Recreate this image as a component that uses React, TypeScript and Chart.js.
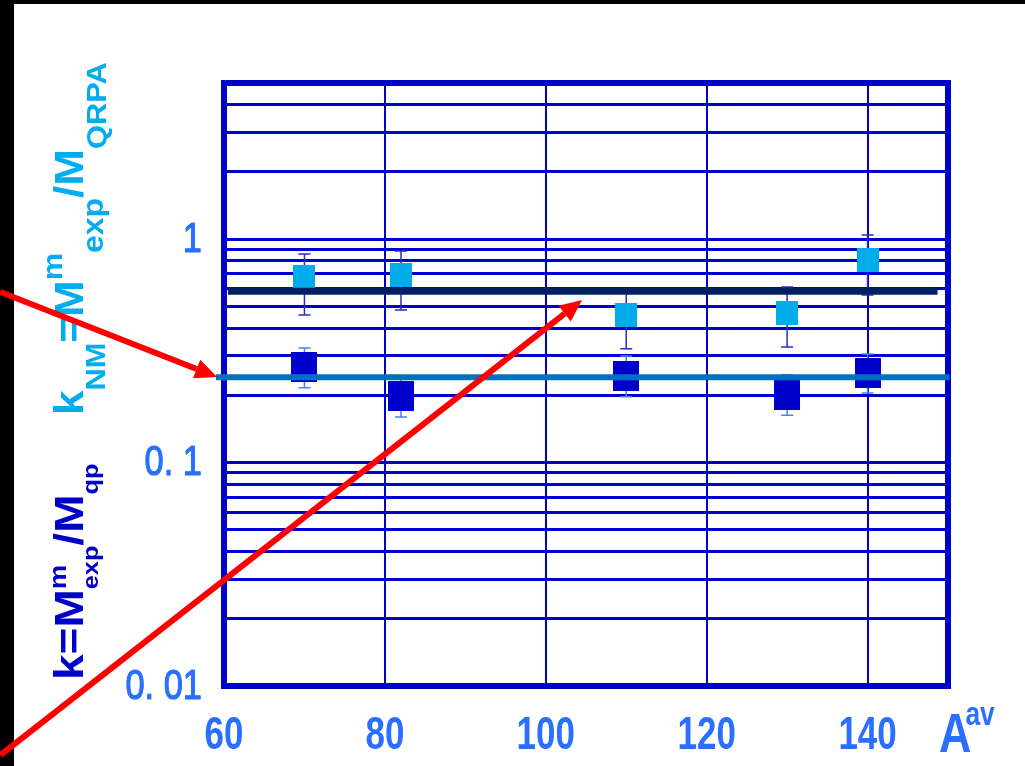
import React, { useEffect, useRef } from 'react';
import { Chart, registerables } from 'chart.js';

Chart.register(...registerables);

// Mass numbers of the decaying nuclei
const massNumbers = [70, 82, 110, 130, 140];

// k_NM = M_exp / M_QRPA with error range
const kQrpa = [0.674, 0.688, 0.458, 0.468, 0.803];
const kQrpaLow = [0.458, 0.482, 0.323, 0.329, 0.563];
const kQrpaHigh = [0.859, 0.886, 0.574, 0.611, 1.044];

// k = M_exp / M_qp with error range
const kQp = [0.268, 0.199, 0.244, 0.2, 0.252];
const kQpLow = [0.216, 0.16, 0.197, 0.163, 0.205];
const kQpHigh = [0.326, 0.244, 0.3, 0.247, 0.306];

// Average levels and the A range they are drawn across
const qrpaMean = 0.585;
const qrpaMeanSpan = [60.5, 148.7];
const qpMean = 0.241;
const qpMeanSpan = [59.0, 150.2];

// Axis grid and labels
const xGridValues = [60, 80, 100, 120, 140, 150];
const xTickValues = [60, 80, 100, 120, 140];
const xTickLabels = ['60', '80', '100', '120', '140'];
const yGridValues = [
  0.01, 0.02, 0.03, 0.04, 0.05, 0.06, 0.07, 0.08, 0.09,
  0.1, 0.2, 0.3, 0.4, 0.5, 0.6, 0.7, 0.8, 0.9,
  1, 2, 3, 4, 5,
];
const yTickValues = [0.01, 0.1, 1];
const yTickLabels = ['0. 01', '0. 1', '1'];

// Pointer arrows, [fromA, fromK, toA, toK]
const arrows = [
  [32.2, 0.58, 59.15, 0.2416],
  [32.2, 0.00491, 104.5, 0.534],
];

const FAMILY = "'Liberation Sans', Arial, sans-serif";
const AXIS_BLUE = '#0000CC';
const LABEL_BLUE = '#2a6fff';
const CYAN = '#00AEEF';

type Run = { text: string; size: number; shift: number; color: string; stack?: boolean };

function drawVerticalRich(
  ctx: CanvasRenderingContext2D,
  baseX: number,
  startY: number,
  stretch: number,
  runs: Run[],
) {
  ctx.save();
  ctx.translate(baseX, startY);
  ctx.rotate(-Math.PI / 2);
  ctx.scale(stretch, 1);
  ctx.textBaseline = 'alphabetic';
  ctx.textAlign = 'left';
  let u = 0;
  for (const r of runs) {
    ctx.font = `bold ${r.size}px ${FAMILY}`;
    ctx.fillStyle = r.color;
    ctx.fillText(r.text, u, r.shift);
    if (!r.stack) u += ctx.measureText(r.text).width;
  }
  ctx.restore();
}

function makeBox(w: number, h: number, color: string) {
  const c = document.createElement('canvas');
  c.width = w;
  c.height = h;
  const g = c.getContext('2d')!;
  g.fillStyle = color;
  g.fillRect(0, 0, w, h);
  return c;
}

const decorPlugin = {
  id: 'decor',
  beforeDraw(chart: any) {
    const { ctx, width, height } = chart;
    ctx.save();
    ctx.fillStyle = '#000';
    ctx.fillRect(0, 0, width, height);
    ctx.fillStyle = '#fff';
    ctx.fillRect(14, 4, width - 14, height - 4);
    ctx.restore();
  },
  beforeDatasetsDraw(chart: any) {
    const { ctx, chartArea, scales } = chart;
    const x = scales.x;
    const y = scales.y;
    ctx.save();
    // frame
    ctx.strokeStyle = AXIS_BLUE;
    ctx.lineWidth = 6;
    ctx.strokeRect(chartArea.left, chartArea.top, chartArea.right - chartArea.left, chartArea.bottom - chartArea.top);
    // error bars
    const drawErr = (lo: number[], hi: number[], color: string, lw: number) => {
      ctx.strokeStyle = color;
      ctx.lineWidth = lw;
      ctx.beginPath();
      massNumbers.forEach((a, i) => {
        const px = x.getPixelForValue(a);
        const pTop = y.getPixelForValue(hi[i]);
        const pBot = y.getPixelForValue(lo[i]);
        ctx.moveTo(px, pTop);
        ctx.lineTo(px, pBot);
        ctx.moveTo(px - 6, pTop);
        ctx.lineTo(px + 6, pTop);
        ctx.moveTo(px - 6, pBot);
        ctx.lineTo(px + 6, pBot);
      });
      ctx.stroke();
    };
    drawErr(kQrpaLow, kQrpaHigh, '#2a2ad0', 1.5);
    drawErr(kQpLow, kQpHigh, '#4a80ff', 1.5);
    ctx.restore();
  },
  afterDraw(chart: any) {
    const { ctx, chartArea, scales } = chart;
    const x = scales.x;
    const y = scales.y;
    ctx.save();
    // x tick labels (condensed bold)
    ctx.fillStyle = LABEL_BLUE;
    ctx.textBaseline = 'alphabetic';
    ctx.textAlign = 'center';
    xTickValues.forEach((v, i) => {
      const px = x.getPixelForValue(v);
      ctx.save();
      ctx.translate(px, chartArea.bottom + 63);
      ctx.scale(0.76, 1);
      ctx.font = `bold 46px ${FAMILY}`;
      ctx.fillText(xTickLabels[i], 0, 0);
      ctx.restore();
    });
    // y tick labels (condensed, medium weight)
    ctx.textAlign = 'right';
    ctx.textBaseline = 'middle';
    ctx.strokeStyle = LABEL_BLUE;
    ctx.lineWidth = 1.2;
    ctx.lineJoin = 'round';
    yTickValues.forEach((v, i) => {
      const py = y.getPixelForValue(v);
      ctx.save();
      ctx.translate(chartArea.left - 22, py + 1);
      ctx.scale(0.8, 1);
      ctx.font = `43px ${FAMILY}`;
      ctx.fillText(yTickLabels[i], 0, 0);
      ctx.strokeText(yTickLabels[i], 0, 0);
      ctx.restore();
    });
    // x axis title A^av
    ctx.textAlign = 'left';
    ctx.textBaseline = 'alphabetic';
    ctx.save();
    ctx.translate(chartArea.right - 9, chartArea.bottom + 66);
    ctx.scale(0.8, 1);
    ctx.font = `bold 56px ${FAMILY}`;
    ctx.fillText('A', 0, 0);
    ctx.font = `bold 33px ${FAMILY}`;
    ctx.fillText('av', 33, -27);
    ctx.restore();

    // y axis titles
    const baseX = chartArea.left - 141;
    drawVerticalRich(ctx, baseX, chartArea.bottom - 6, 1.15, [
      { text: 'k=M', size: 40, shift: 0, color: AXIS_BLUE },
      { text: 'm', size: 24, shift: -17, color: AXIS_BLUE, stack: true },
      { text: 'exp', size: 22, shift: 15, color: AXIS_BLUE },
      { text: '/M', size: 40, shift: 0, color: AXIS_BLUE },
      { text: 'qp', size: 22, shift: 15, color: AXIS_BLUE },
    ]);
    drawVerticalRich(ctx, baseX, chartArea.top + 332, 1.1, [
      { text: 'k', size: 40, shift: 0, color: CYAN },
      { text: 'NM', size: 28, shift: 22, color: CYAN },
      { text: '=M', size: 40, shift: 0, color: CYAN },
      { text: 'm', size: 28, shift: -21, color: CYAN },
      { text: 'exp', size: 29, shift: 20, color: CYAN },
      { text: '/M', size: 40, shift: 0, color: CYAN },
      { text: 'QRPA', size: 28, shift: 23, color: CYAN },
    ]);

    // red arrows
    ctx.strokeStyle = '#ff0000';
    ctx.fillStyle = '#ff0000';
    ctx.lineWidth = 6;
    arrows.forEach(([a0, k0, a1, k1]) => {
      const x0 = x.getPixelForValue(a0);
      const y0 = y.getPixelForValue(k0);
      const x1 = x.getPixelForValue(a1);
      const y1 = y.getPixelForValue(k1);
      const ang = Math.atan2(y1 - y0, x1 - x0);
      const headLen = 22;
      const headHalf = 10;
      const bx = x1 - headLen * Math.cos(ang);
      const by = y1 - headLen * Math.sin(ang);
      ctx.beginPath();
      ctx.moveTo(x0, y0);
      ctx.lineTo(bx, by);
      ctx.stroke();
      ctx.beginPath();
      ctx.moveTo(x1, y1);
      ctx.lineTo(bx + headHalf * Math.sin(ang), by - headHalf * Math.cos(ang));
      ctx.lineTo(bx - headHalf * Math.sin(ang), by + headHalf * Math.cos(ang));
      ctx.closePath();
      ctx.fill();
    });
    ctx.restore();
  },
};

export default function App() {
  const ref = useRef<HTMLCanvasElement>(null);

  useEffect(() => {
    if (!ref.current) return;
    const qrpaBox = makeBox(22, 24, '#00ADEA');
    const qpBox = makeBox(26, 30, '#0000CC');
    const chart = new Chart(ref.current, {
      type: 'scatter',
      data: {
        datasets: [
          {
            type: 'line',
            label: 'mean k_NM',
            data: qrpaMeanSpan.map((a) => ({ x: a, y: qrpaMean })),
            borderColor: '#002060',
            borderWidth: 7,
            pointRadius: 0,
            clip: false as any,
            order: 0,
          },
          {
            type: 'line',
            label: 'mean k',
            data: qpMeanSpan.map((a) => ({ x: a, y: qpMean })),
            borderColor: '#0070C0',
            borderWidth: 6,
            pointRadius: 0,
            clip: false as any,
            order: 0,
          },
          {
            label: 'k_NM',
            data: massNumbers.map((a, i) => ({ x: a, y: kQrpa[i] })),
            pointStyle: qrpaBox as any,
            order: 1,
          },
          {
            label: 'k',
            data: massNumbers.map((a, i) => ({ x: a, y: kQp[i] })),
            pointStyle: qpBox as any,
            order: 1,
          },
        ],
      },
      options: {
        responsive: false,
        animation: false,
        events: [],
        layout: { padding: { left: 224, top: 83, right: 77, bottom: 80 } },
        plugins: { legend: { display: false }, tooltip: { enabled: false } },
        scales: {
          x: {
            type: 'linear',
            min: 60,
            max: 150,
            afterBuildTicks: (s: any) => {
              s.ticks = xGridValues.map((v) => ({ value: v }));
            },
            ticks: { display: false },
            grid: { color: AXIS_BLUE, lineWidth: 2, drawTicks: false },
            border: { display: false },
          },
          y: {
            type: 'logarithmic',
            min: 0.01,
            max: 5,
            afterBuildTicks: (s: any) => {
              s.ticks = yGridValues.map((v) => ({ value: v }));
            },
            ticks: { display: false },
            grid: { color: AXIS_BLUE, lineWidth: 3, drawTicks: false },
            border: { display: false },
          },
        },
      },
      plugins: [decorPlugin],
    });
    return () => chart.destroy();
  }, []);

  return (
    <div style={{ position: 'fixed', left: 0, top: 0, width: 1025, height: 766 }}>
      <canvas ref={ref} width={1025} height={766} style={{ display: 'block' }} />
    </div>
  );
}
